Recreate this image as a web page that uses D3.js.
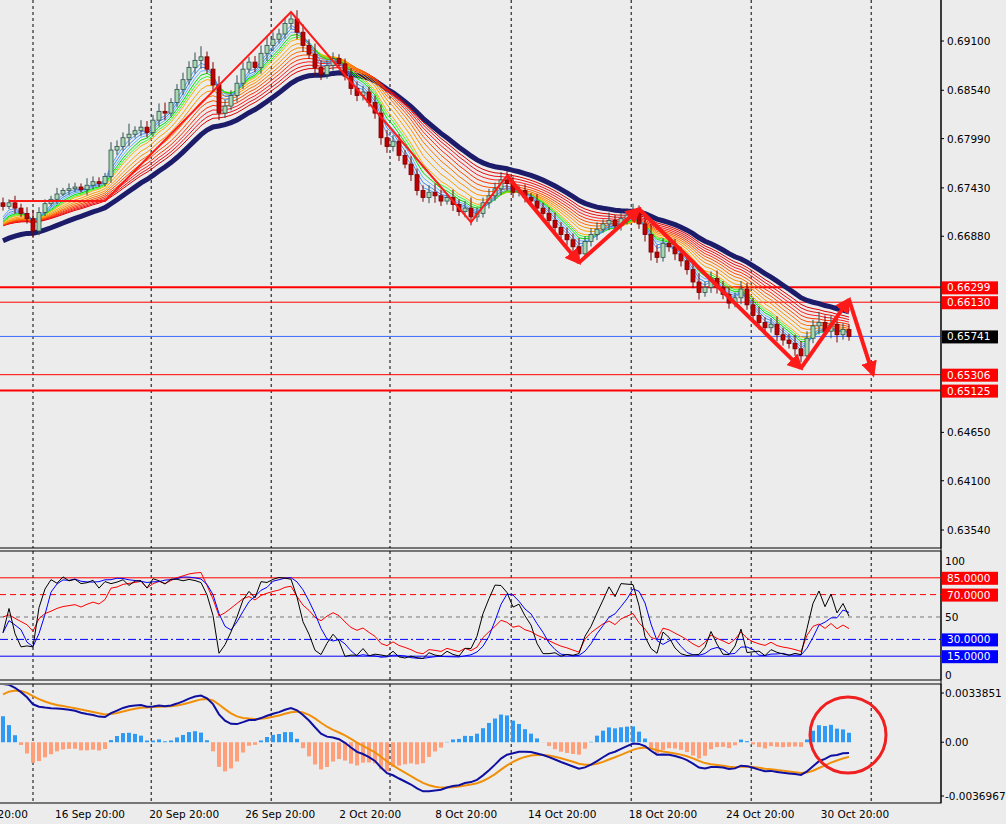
<!DOCTYPE html>
<meta charset="utf-8">
<script src="https://d3js.org/d3.v7.min.js"></script>
<style>
body { margin: 0; background: #ececec; }
text { font-family: "DejaVu Sans", Verdana; font-size: 10.5px; }
</style>
<svg id="chart" width="1006" height="824"></svg>
<script>
// closes in pips above 0.6 (4H bars, one entry per bar)
const closePips = [722,726,720,714,708,694,715,725,730,736,740,742,744,741,746,750,748,756,786,790,
  800,804,808,812,806,820,830,828,840,855,866,880,888,892,878,860,828,836,848,862,
  878,886,880,896,905,912,918,930,935,920,905,895,880,872,882,890,884,870,856,848,
  852,840,828,800,790,796,780,770,758,740,732,738,734,728,732,724,716,720,710,714,
  726,734,742,752,748,738,740,732,728,720,714,706,698,690,684,676,668,682,690,696,
  702,706,700,708,712,716,702,690,670,664,680,676,668,660,650,636,624,630,640,630,
  622,612,618,628,610,598,590,584,588,576,570,566,560,552,572,586,590,580,588,576,582,574]
// wick length in pips
const wickPips = [6,4,8,5,7,10,6,5,4,7,3,6,5,4,8,6,5,4,9,7,
  6,12,5,8,7,6,9,10,5,6,8,7,9,12,6,8,10,7,6,9,
  8,6,7,9,11,8,6,7,8,10,9,7,12,8,6,7,5,6,9,8,
  7,6,8,10,9,7,8,6,9,7,6,8,10,7,5,9,6,8,12,7,
  6,8,7,9,10,8,6,7,5,8,6,7,9,6,8,7,10,6,7,8,
  5,9,6,7,8,9,7,10,12,8,6,7,9,8,7,9,10,6,8,9,
  7,8,6,9,7,8,10,6,7,9,8,7,10,9,8,7,12,8,10,11,7,6]
const priorLevel = 0.6688

const emaPeriods = [3,4,5,6,7,8,10,12,14,16,18,20,22,24]
const emaColors = ["#5aa0ff","#3c8cf0","#66b3ff","#00dd00","#33ff33","#ffb000","#ffa000","#ff9000",
  "#ff7000","#ff5000","#ff3000","#ff2020","#ee1010","#dd0000"]
const slowPeriod = 28

const zigzag = [[1,0.6728],[17,0.6728],[48,0.6943],[78,0.6704],[84,0.6757]]
const arrows = [[84,0.6757],[96,0.6658],[106,0.6719],[133,0.6538],[141,0.6616],[145,0.6531]]

const levelsThick = [0.66299, 0.65125]
const levelsThin = [0.66130, 0.65306]
const currentPrice = 0.65741
const priceTicks = [0.69100,0.68540,0.67990,0.67430,0.66880,0.64650,0.64100,0.63540]

const oscLevels = [{v:85,c:"#ff0000",d:null,box:"85.0000"},{v:70,c:"#ff0000",d:"6,4",box:"70.0000"},
  {v:50,c:"#777",d:"4,4",box:null},{v:30,c:"#0000ff",d:"8,3,2,3",box:"30.0000"},{v:15,c:"#0000ff",d:null,box:"15.0000"}]

const gridBars = [5,24.7,44.7,64.5,84.7,104.7,124.7,144.7]
const timeLabels = ["12 Sep 20:00","16 Sep 20:00","20 Sep 20:00","26 Sep 20:00","2 Oct 20:00","8 Oct 20:00",
  "14 Oct 20:00","18 Oct 20:00","24 Oct 20:00","30 Oct 20:00"]
const timeLabelBars = [-1.7,14.5,30.2,46.2,61.2,77.2,93.2,110,126.2,142]

const svg = d3.select("#chart")
const axisX = 941
const x = d3.scaleLinear().domain([0,1]).range([3,9])
const y = d3.scaleLinear().domain([0.6910,0.6354]).range([41,530])
const yo = d3.scaleLinear().domain([0,100]).range([673,561])
const ym = d3.scaleLinear().domain([-0.0036967,0.0033851]).range([796,693])

const closes = closePips.map(p => 0.6 + p/10000)
const candles = closes.map((c,i) => {
  const o = i ? closes[i-1] : c + 0.0004
  const w = wickPips[i]/10000
  return {i, o, c, h: Math.max(o,c)+w, l: Math.min(o,c)-w*0.8}
})

function ema(arr, n, seed) {
  const k = 2/(n+1); let v = seed; return arr.map(a => v = a*k + v*(1-k))
}
function sma(arr, n) { return arr.map((a,i) => d3.mean(arr.slice(Math.max(0,i-n+1), i+1))) }

// panels
svg.append("rect").attr("x",0).attr("y",0).attr("width",1006).attr("height",824).attr("fill","#ececec")
const frame = (y0,y1) => svg.append("rect").attr("x",-1).attr("y",y0).attr("width",axisX+1).attr("height",y1-y0)
  .attr("fill","none").attr("stroke","#000")
frame(-1,548); frame(551,680); frame(684,803)

svg.append("clipPath").attr("id","cm").append("rect").attr("x",0).attr("y",0).attr("width",axisX).attr("height",548)
svg.append("clipPath").attr("id","co").append("rect").attr("x",0).attr("y",552).attr("width",axisX).attr("height",127)
svg.append("clipPath").attr("id","cd").append("rect").attr("x",0).attr("y",685).attr("width",axisX).attr("height",117)

// vertical grid
gridBars.forEach(b => {
  [[0,548],[551,680],[684,803]].forEach(([a,z]) =>
    svg.append("line").attr("x1",x(b)).attr("x2",x(b)).attr("y1",a).attr("y2",z)
      .attr("stroke","#000").attr("stroke-dasharray","3,3"))
})

const main = svg.append("g").attr("clip-path","url(#cm)")

// horizontal levels
levelsThick.forEach(v => main.append("line").attr("x1",0).attr("x2",axisX).attr("y1",y(v)).attr("y2",y(v)).attr("stroke","#ff0000").attr("stroke-width",2))
levelsThin.forEach(v => main.append("line").attr("x1",0).attr("x2",axisX).attr("y1",y(v)).attr("y2",y(v)).attr("stroke","#ff0000").attr("stroke-width",1))
main.append("line").attr("x1",0).attr("x2",axisX).attr("y1",y(currentPrice)).attr("y2",y(currentPrice)).attr("stroke","#3c6cff")

// rainbow EMAs
const line = d3.line().x((d,i) => x(i)).y(d => y(d))
main.append("path").attr("d", line(ema(closes, slowPeriod, priorLevel-0.0008))).attr("fill","none").attr("stroke","#1c1c6a").attr("stroke-width",5)
emaPeriods.slice().reverse().forEach((p,j) => {
  const idx = emaPeriods.length-1-j
  main.append("path").attr("d", line(ema(closes, p, priorLevel+0.001))).attr("fill","none").attr("stroke",emaColors[idx]).attr("stroke-width",1)
})

// candles
const cg = main.append("g").selectAll("g").data(candles).join("g")
cg.append("line").attr("x1",d=>x(d.i)).attr("x2",d=>x(d.i)).attr("y1",d=>y(d.h)).attr("y2",d=>y(d.l))
  .attr("stroke",d=>d.c>=d.o?"#2f4f4f":"#7a0000")
cg.append("rect").attr("x",d=>x(d.i)-2).attr("width",4)
  .attr("y",d=>y(Math.max(d.o,d.c))).attr("height",d=>Math.max(1,Math.abs(y(d.o)-y(d.c))))
  .attr("fill",d=>d.c>=d.o?"#a8d8b0":"#c00000").attr("stroke",d=>d.c>=d.o?"#2f4f4f":"#7a0000").attr("stroke-width",0.8)

// zigzag + arrows
main.append("path").attr("d", d3.line().x(d=>x(d[0])).y(d=>y(d[1]))(zigzag)).attr("fill","none").attr("stroke","#ff1a1a").attr("stroke-width",2)
svg.append("defs").append("marker").attr("id","ah").attr("viewBox","0 0 10 10").attr("refX",8).attr("refY",5)
  .attr("markerWidth",4).attr("markerHeight",4).attr("orient","auto")
  .append("path").attr("d","M0,0L10,5L0,10z").attr("fill","#ff1a1a")
for (let k=0;k<arrows.length-1;k++) {
  main.append("line").attr("x1",x(arrows[k][0])).attr("y1",y(arrows[k][1])).attr("x2",x(arrows[k+1][0])).attr("y2",y(arrows[k+1][1]))
    .attr("stroke","#ff1a1a").attr("stroke-width",4).attr("marker-end","url(#ah)")
}

// right axis
svg.append("line").attr("x1",axisX).attr("x2",axisX).attr("y1",0).attr("y2",803).attr("stroke","#000")
priceTicks.forEach(v => {
  svg.append("line").attr("x1",axisX).attr("x2",axisX+3).attr("y1",y(v)).attr("y2",y(v)).attr("stroke","#000")
  svg.append("text").attr("x",947).attr("y",y(v)+4).text(v.toFixed(5))
})
const boxLabel = (v, yy, bg) => {
  svg.append("rect").attr("x",942).attr("y",yy-6).attr("width",56).attr("height",13).attr("fill",bg)
  svg.append("text").attr("x",947).attr("y",yy+4).attr("fill","#fff").text(v)
}
levelsThick.concat(levelsThin).forEach(v => boxLabel(v.toFixed(5), y(v), "#ff0000"))
boxLabel(currentPrice.toFixed(5), y(currentPrice), "#000")

// oscillator panel
const og = svg.append("g").attr("clip-path","url(#co)")
oscLevels.forEach(l => {
  og.append("line").attr("x1",0).attr("x2",axisX).attr("y1",yo(l.v)).attr("y2",yo(l.v)).attr("stroke",l.c).attr("stroke-dasharray",l.d)
  if (l.box) {
    svg.append("rect").attr("x",942).attr("y",yo(l.v)-6).attr("width",56).attr("height",13).attr("fill",l.c)
    svg.append("text").attr("x",947).attr("y",yo(l.v)+4).attr("fill","#fff").text(l.box)
  }
})
;[[100,561],[50,617],[0,675]].forEach(([t,yy]) => svg.append("text").attr("x",945).attr("y",yy+4).text(t))

function stoch(n) {
  return candles.map((d,i) => {
    const w = candles.slice(Math.max(0,i-n+1), i+1)
    const hi = d3.max(w,e=>e.h), lo = d3.min(w,e=>e.l)
    return 10 + 80*(d.c-lo)/(hi-lo)
  })
}
function rsi(n) {
  let g = 0.0005, l = 0.0005
  return closes.map((c,i) => {
    const ch = i ? c-closes[i-1] : 0
    g = (g*(n-1)+Math.max(ch,0))/n; l = (l*(n-1)+Math.max(-ch,0))/n
    return 100 - 100/(1+g/l)
  })
}
const lo = d3.line().x((d,i)=>x(i)).y(d=>yo(d))
og.append("path").attr("d",lo(rsi(12))).attr("fill","none").attr("stroke","#ff0000")
og.append("path").attr("d",lo(sma(stoch(14),3))).attr("fill","none").attr("stroke","#0000ff")
og.append("path").attr("d",lo(stoch(10))).attr("fill","none").attr("stroke","#000")

// MACD panel
const dg = svg.append("g").attr("clip-path","url(#cd)")
const fast = ema(closes,8,closes[0]-0.004), slow = ema(closes,17,closes[0]-0.008)
const macd = fast.map((f,i)=>f-slow[i])
const signal = ema(macd,6,macd[0]-0.001)
const hist = macd.map((m,i)=>(m-signal[i])*2.5)
dg.selectAll("rect").data(hist).join("rect")
  .attr("x",(d,i)=>x(i)-2).attr("width",4)
  .attr("y",d=>d>=0?ym(d):ym(0)).attr("height",d=>Math.abs(ym(d)-ym(0)))
  .attr("fill",d=>d>=0?"#2e9af5":"#ffa07a")
const lm = d3.line().x((d,i)=>x(i)).y(d=>ym(d))
dg.append("path").attr("d",lm(signal)).attr("fill","none").attr("stroke","#f0900a").attr("stroke-width",2)
dg.append("path").attr("d",lm(macd)).attr("fill","none").attr("stroke","#1010a0").attr("stroke-width",2)
dg.append("circle").attr("cx",848).attr("cy",735).attr("r",38).attr("fill","none").attr("stroke","#f02020").attr("stroke-width",3)
;[[0.0033851,"0.0033851"],[0,"0.00"],[-0.0036967,"-0.0036967"]].forEach(([v,t]) => {
  svg.append("line").attr("x1",axisX).attr("x2",axisX+3).attr("y1",ym(v)).attr("y2",ym(v)).attr("stroke","#000")
  svg.append("text").attr("x",945).attr("y",ym(v)+4).text(t)
})

// time labels
timeLabels.forEach((t,k) => svg.append("text").attr("x",x(timeLabelBars[k])).attr("y",818).attr("text-anchor","middle").text(t))
</script>
